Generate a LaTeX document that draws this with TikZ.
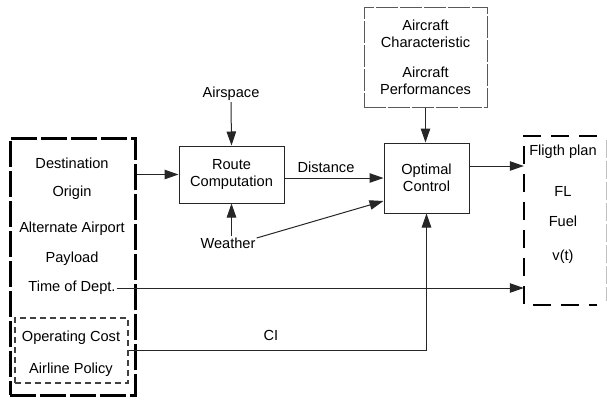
\documentclass[tikz,border=0pt]{standalone}
\usepackage{fontspec}
\setmainfont{Liberation Sans}
\usetikzlibrary{arrows.meta,positioning,calc}
\tikzset{
  blk/.style={draw=black!85,line width=1pt,inner sep=0pt,align=center},
  grpbox/.style={draw,line width=3pt,dash pattern=on 26pt off 4pt,inner sep=0pt},
  subbox/.style={draw=black!75,line width=1.1pt,dash pattern=on 6pt off 4pt,inner sep=0pt},
  acbox/.style={draw=black!65,line width=1pt,dash pattern=on 22pt off 2pt,inner sep=0pt},
  plandash/.style={line width=2.5pt,dash pattern=on 18pt off 10pt},
  arr/.style={-{Triangle[length=14pt,width=9.5pt]},line width=1pt,draw=black!85},
  lbl/.style={inner sep=1pt},
}
\begin{document}
\begin{tikzpicture}[x=1pt,y=-1pt,every node/.style={font=\fontsize{14.6}{17}\selectfont}]
 \useasboundingbox (0,0) rectangle (607,405);
 % frames and blocks
 \node[grpbox,minimum width=125pt,minimum height=257pt] (src) at (72.5,266.5) {};
 \node[subbox,minimum width=113pt,minimum height=65pt] (cost) at (71.5,350.5) {};
 \node[blk,minimum width=105pt,minimum height=57pt] (route) at (231.5,174.5) {Route\\Computation};
 \node[blk,minimum width=85pt,minimum height=70pt] (opt) at (426.5,178) {Optimal\\Control};
 \node[acbox,minimum width=123pt,minimum height=100pt] (acft) at (425.5,57) {};
 \node[minimum width=82pt,minimum height=169pt,inner sep=0pt] (plan) at (565,220.5) {};
 \draw[plandash] ([xshift=-9pt]plan.north east) -- (plan.north west) -- (plan.south west) -- ([xshift=-9pt]plan.south east);
 \draw[black!25,line width=1pt,dash pattern=on 18pt off 3pt] ([yshift=-4pt]plan.north east) -- ([yshift=4pt]plan.south east);
 % texts
 \node[lbl] (dest) at (72,163) {Destination};
 \node[lbl] (orig) at (72,193) {Origin};
 \node[lbl] (alt) at (72,229) {Alternate Airport};
 \node[lbl] (payload) at (72,259) {Payload};
 \node[lbl] (dept) at (72,288) {Time of Dept.};
 \node[lbl] (opcost) at (71,338) {Operating Cost};
 \node[lbl] (policy) at (71,370) {Airline Policy};
 \node[lbl,align=center] (acchar) at (425.5,33.5) {Aircraft\\Characteristic};
 \node[lbl,align=center] (acperf) at (425.5,81) {Aircraft\\Performances};
 \node[lbl] (airsp) at (231,94) {Airspace};
 \node[lbl] (weather) at (228,243) {Weather};
 \node[lbl] (dist) at (326,167) {Distance};
 \node[lbl] (ci) at (271,335) {CI};
 \node[lbl] (fplan) at (563,152) {Fligth plan};
 \node[lbl] (fl) at (563,191) {FL};
 \node[lbl] (fuel) at (563,221) {Fuel};
 \node[lbl] (vt) at (563,257) {v(t)};
 % connectors
 \draw[arr] (src.east |- route.west) -- (route.west);
 \draw[arr] (airsp.south) -- (route.north);
 \draw[arr] (weather.north -| route.south) -- (route.south);
 \draw[arr] ([yshift=5pt]weather.east) -- ([yshift=-23pt]opt.west);
 \draw[arr] (route.east |- opt.west) -- (opt.west);
 \draw[arr] (acft.south) -- (acft.south |- opt.north);
 \draw[arr] ([yshift=12pt]opt.east) coordinate (o1) -- (o1 -| plan.west);
 \draw[arr] (dept.east) -- (dept.east -| plan.west);
 \draw[arr] (cost.east) -- (cost.east -| opt.south) -- (opt.south);
\end{tikzpicture}
\end{document}
